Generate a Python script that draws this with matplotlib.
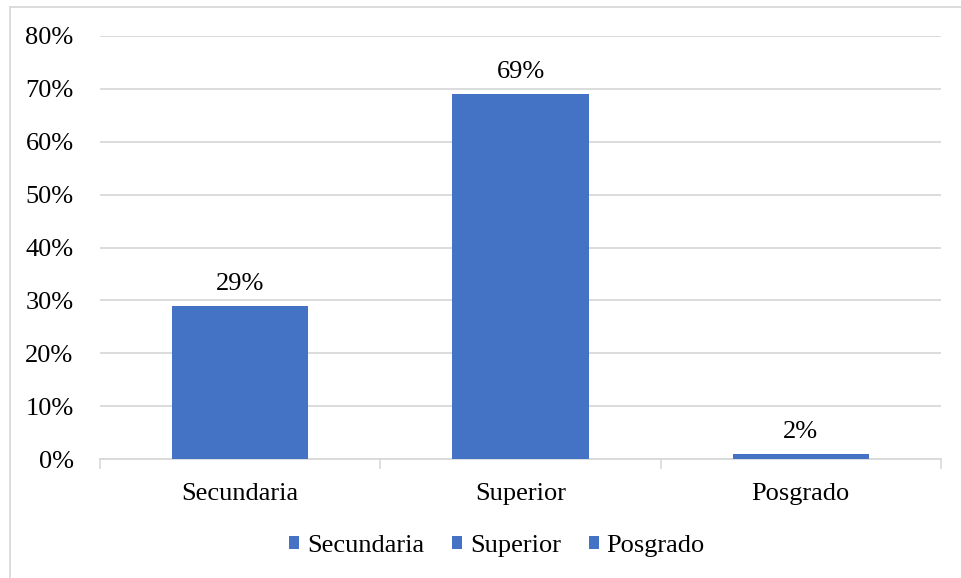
"""Bar chart of education level shares (Excel-style)."""
import matplotlib
matplotlib.use('Agg')
import matplotlib.pyplot as plt
from matplotlib.lines import Line2D
from matplotlib.patches import Patch

categories = ['Secundaria', 'Superior', 'Posgrado']
values = [0.29, 0.69, 0.01]
value_labels = ['29%', '69%', '2%']
y_ticks = [0.0, 0.1, 0.2, 0.3, 0.4, 0.5, 0.6, 0.7, 0.8]

BAR_COLOR = '#4472C4'
GRID_COLOR = '#D9D9D9'
FS = 19

plt.rcParams['font.family'] = ['Liberation Serif', 'DejaVu Serif']

W, H = 961, 578
fig = plt.figure(figsize=(W / 100, H / 100), dpi=100)
ax = fig.add_axes([100 / W, 1 - 459 / H, (941 - 100) / W, (459 - 36) / H])

x = range(len(categories))
ax.bar(x, values, width=0.486, color=BAR_COLOR, zorder=3)
for xi, v, lab in zip(x, values, value_labels):
    ax.annotate(lab, (xi, v), xytext=(0, 8), textcoords='offset points',
                ha='center', va='bottom', fontsize=FS, color='#000000')

ax.set_xlim(-0.5, len(categories) - 0.5)
ax.set_ylim(0, 0.8)
ax.set_yticks(y_ticks)
ax.set_yticklabels([f'{int(round(t * 100))}%' for t in y_ticks])
ax.set_xticks(list(x))
ax.set_xticklabels(categories)
ax.tick_params(axis='y', length=0, pad=19, labelsize=FS)
ax.tick_params(axis='x', length=0, pad=17, labelsize=FS)

# category boundary tick marks like Excel
ax.set_xticks([-0.5, 0.5, 1.5, 2.5], minor=True)
ax.tick_params(axis='x', which='minor', length=7, width=1.2, color=GRID_COLOR)

ax.yaxis.grid(True, color=GRID_COLOR, linewidth=1.3, zorder=0)
ax.set_axisbelow(True)
for s in ['top', 'right', 'left']:
    ax.spines[s].set_visible(False)
ax.spines['bottom'].set_color(GRID_COLOR)
ax.spines['bottom'].set_linewidth(1.3)

handles = [Patch(facecolor=BAR_COLOR, label=c) for c in categories]
fig.legend(handles=handles, loc='center', bbox_to_anchor=(497 / W, 1 - 546 / H),
           ncol=3, frameon=False, fontsize=FS, handlelength=0.38,
           handleheight=0.38, handletextpad=0.3, columnspacing=1.05)

# light outer chart frame
fig.add_artist(Line2D([10 / W, 1], [1 - 7 / H, 1 - 7 / H], color=GRID_COLOR,
                      linewidth=1.3, transform=fig.transFigure))
fig.add_artist(Line2D([10 / W, 10 / W], [0, 1 - 7 / H], color=GRID_COLOR,
                      linewidth=1.3, transform=fig.transFigure))

fig.savefig('out.png', dpi=100)
plt.close(fig)
